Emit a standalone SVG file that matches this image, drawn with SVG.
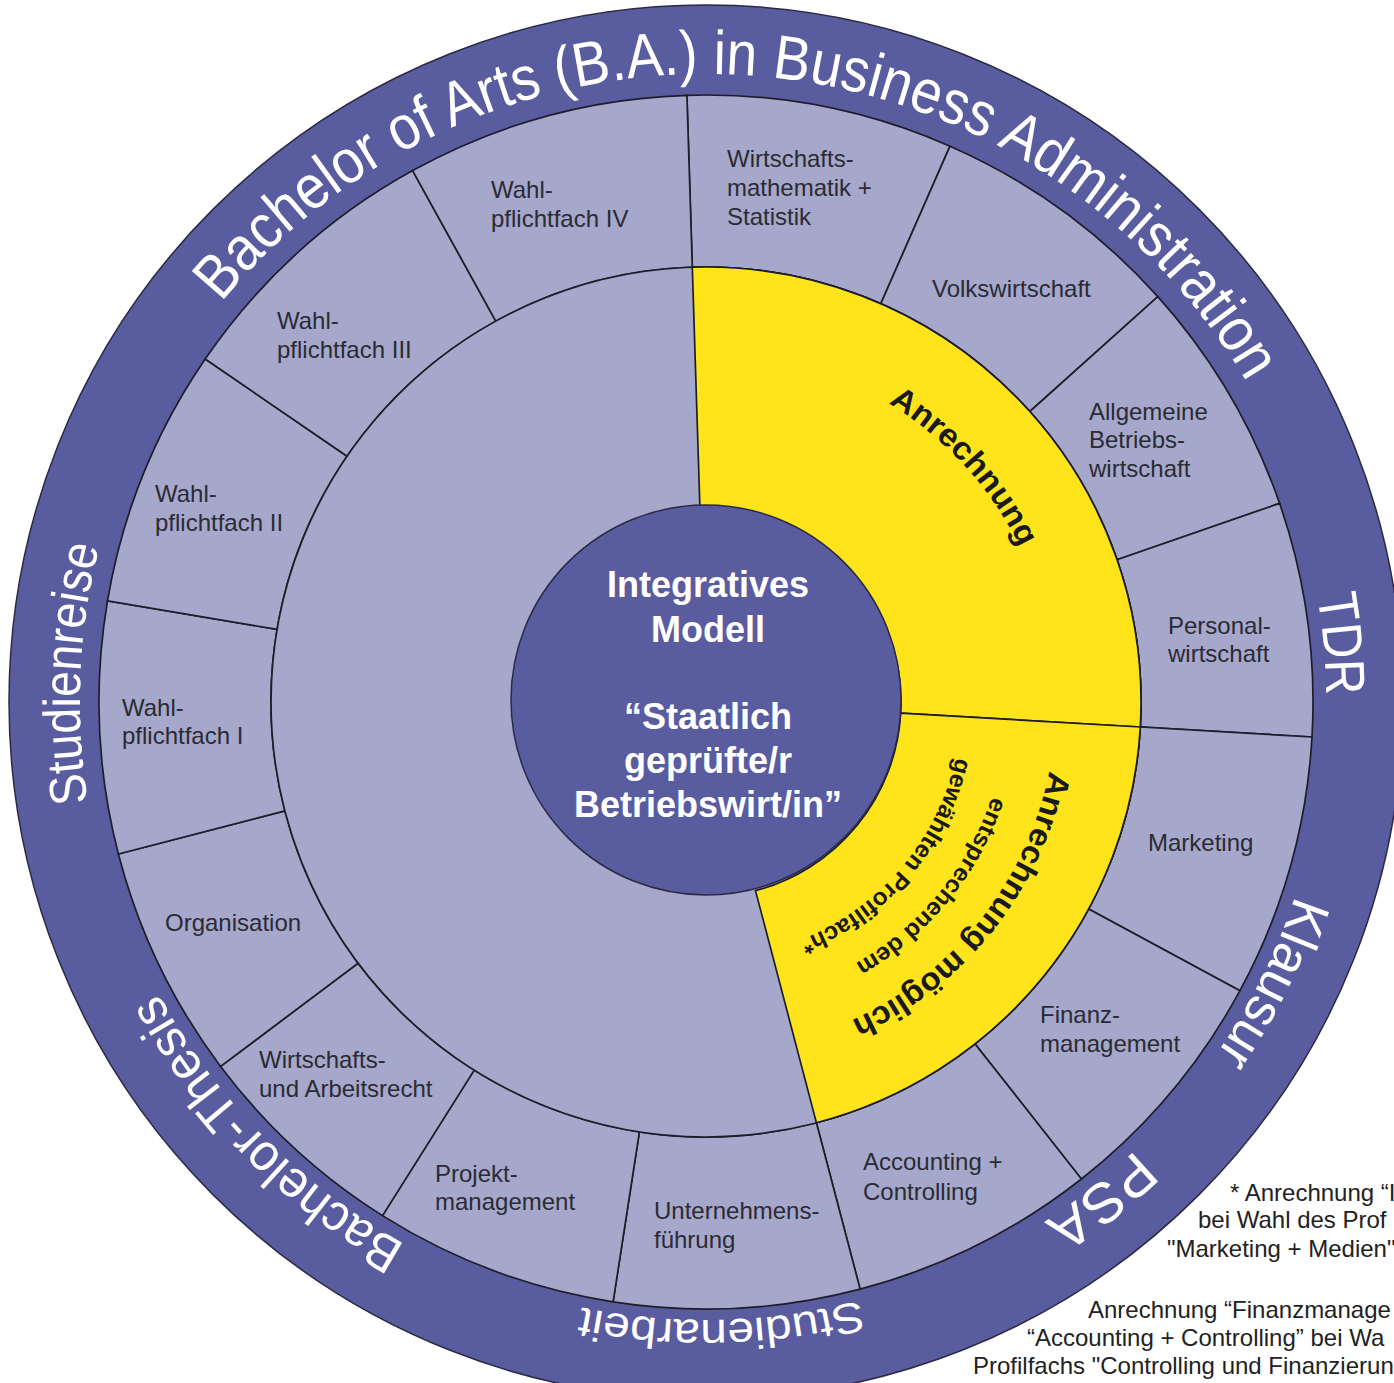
<svg xmlns="http://www.w3.org/2000/svg" width="1394" height="1383" viewBox="0 0 1394 1383">
<style>
.band{fill:#5a5ca0;stroke:#2a2a44;stroke-width:1.5}
.cell{fill:#a5a7cb;stroke:#1e1e2a;stroke-width:1.7}
.yel{fill:#ffe41c;stroke:#1e1e2a;stroke-width:1.7}
.core{fill:#5a5ca0;stroke:#2a2a44;stroke-width:1.5}
.lbl{font-family:"Liberation Sans",Arial,sans-serif;font-size:24px;fill:#2b2b33}
.btxt{font-family:"Liberation Sans",Arial,sans-serif;fill:#ffffff}
.ctr{font-family:"Liberation Sans",Arial,sans-serif;font-weight:bold;font-size:36px;fill:#ffffff;text-anchor:middle}
.ytxt{font-family:"Liberation Sans",Arial,sans-serif;font-weight:bold;fill:#1a1a1a}
.note{font-family:"Liberation Sans",Arial,sans-serif;font-size:24px;fill:#222222}
</style>
<defs>
<path id="pTop" d="M706,1330 A628,628 0 1 1 706,74 A628,628 0 1 1 706,1330"/>
<path id="p620" d="M706,82 A620,620 0 1 1 706,1322 A620,620 0 1 1 706,82"/>
<path id="p626" d="M706,76 A626,626 0 1 1 706,1328 A626,626 0 1 1 706,76"/>
<path id="p618" d="M706,84 A618,618 0 1 1 706,1320 A618,618 0 1 1 706,84"/>
<path id="p350" d="M706,352 A350,350 0 1 1 706,1052 A350,350 0 1 1 706,352"/>
<path id="p301" d="M706,401 A301,301 0 1 1 706,1003 A301,301 0 1 1 706,401"/>
<path id="p256" d="M706,446 A256,256 0 1 1 706,958 A256,256 0 1 1 706,446"/>
</defs>
<rect width="1394" height="1383" fill="#ffffff"/>

<g id="outer-band">
<circle class="band" cx="706" cy="702" r="697"/>
</g>

<g id="cells">
<g id="cell-wirtschaftsmathematik"><path class="cell" d="M686.9,95.3 A607,607 0 0 1 950.0,146.2 L880.8,303.7 A435,435 0 0 0 692.3,267.2 Z"/>
<text class="lbl" x="727" y="167">Wirtschafts-</text><text class="lbl" x="727" y="196">mathematik +</text><text class="lbl" x="727" y="225">Statistik</text></g>
<g id="cell-volkswirtschaft"><path class="cell" d="M950.0,146.2 A607,607 0 0 1 1157.8,296.6 L1029.8,411.5 A435,435 0 0 0 880.8,303.7 Z"/>
<text class="lbl" x="932" y="297">Volkswirtschaft</text></g>
<g id="cell-abwl"><path class="cell" d="M1157.8,296.6 A607,607 0 0 1 1279.6,503.4 L1117.0,559.7 A435,435 0 0 0 1029.8,411.5 Z"/>
<text class="lbl" x="1089" y="420">Allgemeine</text><text class="lbl" x="1089" y="448">Betriebs-</text><text class="lbl" x="1089" y="477">wirtschaft</text></g>
<g id="cell-personal"><path class="cell" d="M1279.6,503.4 A607,607 0 0 1 1312.0,737.0 L1140.3,727.0 A435,435 0 0 0 1117.0,559.7 Z"/>
<text class="lbl" x="1168" y="634">Personal-</text><text class="lbl" x="1168" y="662">wirtschaft</text></g>
<g id="cell-marketing"><path class="cell" d="M1312.0,737.0 A607,607 0 0 1 1239.9,990.7 L1088.6,908.9 A435,435 0 0 0 1140.3,727.0 Z"/>
<text class="lbl" x="1148" y="851">Marketing</text></g>
<g id="cell-finanz"><path class="cell" d="M1239.9,990.7 A607,607 0 0 1 1081.4,1179.0 L975.0,1043.9 A435,435 0 0 0 1088.6,908.9 Z"/>
<text class="lbl" x="1040" y="1023">Finanz-</text><text class="lbl" x="1040" y="1052">management</text></g>
<g id="cell-accounting"><path class="cell" d="M1081.4,1179.0 A607,607 0 0 1 860.1,1289.1 L816.4,1122.8 A435,435 0 0 0 975.0,1043.9 Z"/>
<text class="lbl" x="863" y="1170">Accounting +</text><text class="lbl" x="863" y="1200">Controlling</text></g>
<g id="cell-unternehmensfuehrung"><path class="cell" d="M860.1,1289.1 A607,607 0 0 1 613.1,1301.8 L639.4,1131.9 A435,435 0 0 0 816.4,1122.8 Z"/>
<text class="lbl" x="654" y="1219">Unternehmens-</text><text class="lbl" x="654" y="1248">führung</text></g>
<g id="cell-projekt"><path class="cell" d="M613.1,1301.8 A607,607 0 0 1 382.5,1215.6 L474.2,1070.1 A435,435 0 0 0 639.4,1131.9 Z"/>
<text class="lbl" x="435" y="1182">Projekt-</text><text class="lbl" x="435" y="1210">management</text></g>
<g id="cell-recht"><path class="cell" d="M382.5,1215.6 A607,607 0 0 1 220.6,1066.4 L358.1,963.2 A435,435 0 0 0 474.2,1070.1 Z"/>
<text class="lbl" x="259" y="1068">Wirtschafts-</text><text class="lbl" x="259" y="1097">und Arbeitsrecht</text></g>
<g id="cell-organisation"><path class="cell" d="M220.6,1066.4 A607,607 0 0 1 118.4,854.0 L284.9,810.9 A435,435 0 0 0 358.1,963.2 Z"/>
<text class="lbl" x="165" y="931">Organisation</text></g>
<g id="cell-wahl1"><path class="cell" d="M118.4,854.0 A607,607 0 0 1 107.5,600.8 L277.1,629.4 A435,435 0 0 0 284.9,810.9 Z"/>
<text class="lbl" x="122" y="716">Wahl-</text><text class="lbl" x="122" y="744">pflichtfach I</text></g>
<g id="cell-wahl2"><path class="cell" d="M107.5,600.8 A607,607 0 0 1 205.2,359.0 L347.1,456.2 A435,435 0 0 0 277.1,629.4 Z"/>
<text class="lbl" x="155" y="502">Wahl-</text><text class="lbl" x="155" y="531">pflichtfach II</text></g>
<g id="cell-wahl3"><path class="cell" d="M205.2,359.0 A607,607 0 0 1 412.6,170.6 L495.8,321.2 A435,435 0 0 0 347.1,456.2 Z"/>
<text class="lbl" x="277" y="329">Wahl-</text><text class="lbl" x="277" y="358">pflichtfach III</text></g>
<g id="cell-wahl4"><path class="cell" d="M412.6,170.6 A607,607 0 0 1 686.9,95.3 L692.3,267.2 A435,435 0 0 0 495.8,321.2 Z"/>
<text class="lbl" x="491" y="198">Wahl-</text><text class="lbl" x="491" y="227">pflichtfach IV</text></g>
</g>

<g id="inner-ring">
<circle class="cell" cx="706" cy="702" r="435"/>
</g>

<g id="anrechnung">
<path class="yel" d="M699.9,507.1 L692.3,267.2 A435,435 0 0 1 1140.3,727.0 L900.7,713.2 A195,195 0 0 0 699.9,507.1 Z"/>
<text class="ytxt" font-size="32"><textPath href="#p350" startOffset="191.8" textLength="197.9" lengthAdjust="spacingAndGlyphs">Anrechnung</textPath></text>
</g>

<g id="anrechnung-moeglich">
<path class="yel" d="M900.7,713.2 L1140.3,727.0 A435,435 0 0 1 816.4,1122.8 L755.5,890.6 A195,195 0 0 0 900.7,713.2 Z"/>
<text class="ytxt" font-size="32"><textPath href="#p350" startOffset="618.8" textLength="331.1" lengthAdjust="spacingAndGlyphs">Anrechnung möglich</textPath></text>
<text class="ytxt" font-size="24"><textPath href="#p301" startOffset="568.9" textLength="220.6" lengthAdjust="spacingAndGlyphs">entsprechend dem</textPath></text>
<text class="ytxt" font-size="24"><textPath href="#p256" startOffset="458.0" textLength="249.8" lengthAdjust="spacingAndGlyphs">gewählten Profilfach*</textPath></text>
</g>

<g id="center">
<circle class="core" cx="706" cy="700" r="195"/>
<text class="ctr" x="708" y="597">Integratives</text>
<text class="ctr" x="708" y="642">Modell</text>
<text class="ctr" x="708" y="729">“Staatlich</text>
<text class="ctr" x="708" y="773">geprüfte/r</text>
<text class="ctr" x="708" y="817">Betriebswirt/in”</text>
</g>

<g id="band-labels">
<text class="btxt" font-size="62"><textPath href="#pTop" startOffset="1419.4" textLength="1205" lengthAdjust="spacingAndGlyphs">Bachelor of Arts (B.A.) in Business Administration</textPath></text>
<text class="btxt" font-size="56"><textPath href="#p620" startOffset="866.8" textLength="100.6" lengthAdjust="spacingAndGlyphs">TDR</textPath></text>
<text class="btxt" font-size="54"><textPath href="#p620" startOffset="1170.8" textLength="178.5" lengthAdjust="spacingAndGlyphs">Klausur</textPath></text>
<text class="btxt" font-size="56"><textPath href="#p620" startOffset="1473.8" textLength="116.9" lengthAdjust="spacingAndGlyphs">PSA</textPath></text>
<text class="btxt" font-size="43"><textPath href="#p618" startOffset="1785.1" textLength="281.5" lengthAdjust="spacingAndGlyphs">Studienarbeit</textPath></text>
<text class="btxt" font-size="52"><textPath href="#p620" startOffset="2261.6" textLength="357.1" lengthAdjust="spacingAndGlyphs">Bachelor-Thesis</textPath></text>
<text class="btxt" font-size="52"><textPath href="#p626" startOffset="2849.4" textLength="257.9" lengthAdjust="spacingAndGlyphs">Studienreise</textPath></text>
</g>

<g id="footnote">
<text class="note" x="1230" y="1201">* Anrechnung “I</text>
<text class="note" x="1198" y="1228">bei Wahl des Prof</text>
<text class="note" x="1167" y="1257">"Marketing + Medien"</text>
<text class="note" x="1088" y="1318">Anrechnung “Finanzmanage</text>
<text class="note" x="1027" y="1346">“Accounting + Controlling” bei Wa</text>
<text class="note" x="973" y="1374">Profilfachs "Controlling und Finanzierun</text>
</g>
</svg>
